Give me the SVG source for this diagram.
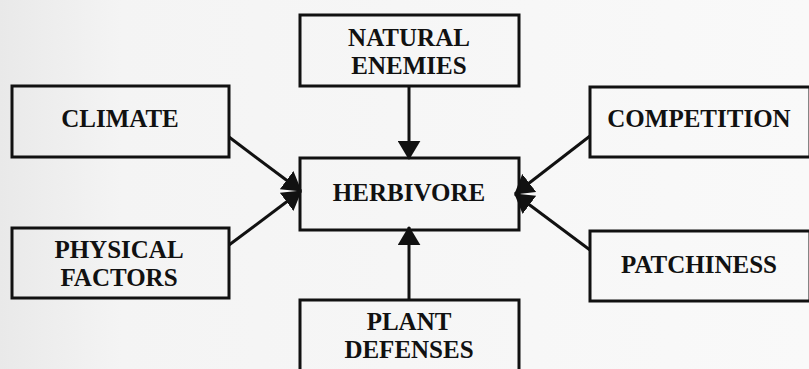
<svg xmlns="http://www.w3.org/2000/svg" width="809" height="369" viewBox="0 0 809 369">
  <defs>
    <linearGradient id="bg" x1="0" y1="0" x2="1" y2="0">
      <stop offset="0" stop-color="#e9e9e9"/>
      <stop offset="0.15" stop-color="#f4f4f4"/>
      <stop offset="1" stop-color="#f9f9f9"/>
    </linearGradient>
    <marker id="ah" viewBox="0 0 20 24" refX="19" refY="12" markerWidth="19" markerHeight="23" markerUnits="userSpaceOnUse" orient="auto">
      <path d="M0,0 L20,12 L0,24 Z" fill="#111"/>
    </marker>
    <style>
      .box { fill: none; stroke: #111; stroke-width: 3; }
      .lbl { font-family: "Liberation Serif", "Times New Roman", serif; font-weight: bold; font-size: 25px; fill: #111; text-anchor: middle; }
      .conn { stroke: #111; stroke-width: 3; fill: none; marker-end: url(#ah); }
    </style>
  </defs>
  <rect x="0" y="0" width="809" height="369" fill="url(#bg)"/>

  <g id="connectors">
    <line class="conn" x1="409" y1="86" x2="409" y2="159"/>
    <line class="conn" x1="409" y1="300" x2="409" y2="227"/>
    <line class="conn" x1="229" y1="137" x2="301" y2="191"/>
    <line class="conn" x1="229" y1="245" x2="301" y2="191"/>
    <line class="conn" x1="590" y1="136" x2="515" y2="194"/>
    <line class="conn" x1="590" y1="250" x2="515" y2="194"/>
  </g>

  <g id="natural-enemies">
    <rect class="box" x="300" y="15" width="219" height="71"/>
    <text class="lbl" x="409" y="46">NATURAL</text>
    <text class="lbl" x="409" y="74">ENEMIES</text>
  </g>

  <g id="herbivore">
    <rect class="box" x="300" y="158" width="219" height="72"/>
    <text class="lbl" x="409" y="201">HERBIVORE</text>
  </g>

  <g id="climate">
    <rect class="box" x="12" y="86" width="217" height="71"/>
    <text class="lbl" x="120" y="127">CLIMATE</text>
  </g>

  <g id="physical-factors">
    <rect class="box" x="12" y="228" width="217" height="70"/>
    <text class="lbl" x="119" y="258">PHYSICAL</text>
    <text class="lbl" x="119" y="286">FACTORS</text>
  </g>

  <g id="competition">
    <rect class="box" x="590" y="87" width="220" height="70"/>
    <text class="lbl" x="699" y="127">COMPETITION</text>
  </g>

  <g id="patchiness">
    <rect class="box" x="590" y="231" width="220" height="70"/>
    <text class="lbl" x="699" y="273">PATCHINESS</text>
  </g>

  <g id="plant-defenses">
    <rect class="box" x="300" y="300" width="219" height="80"/>
    <text class="lbl" x="409" y="330">PLANT</text>
    <text class="lbl" x="409" y="358">DEFENSES</text>
  </g>
</svg>
